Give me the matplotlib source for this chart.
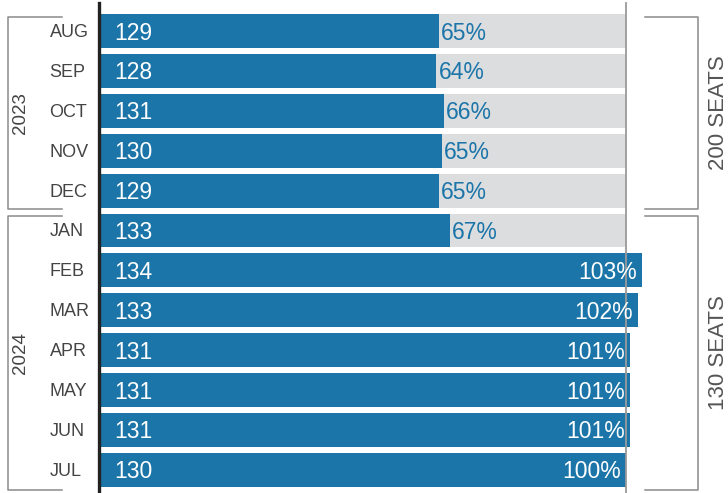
import matplotlib
matplotlib.use("Agg")
import matplotlib.pyplot as plt
from matplotlib.lines import Line2D

months = ["AUG", "SEP", "OCT", "NOV", "DEC", "JAN", "FEB", "MAR", "APR", "MAY", "JUN", "JUL"]
years = ["2023", "2023", "2023", "2023", "2023", "2024", "2024", "2024", "2024", "2024", "2024", "2024"]
attendance = [129, 128, 131, 130, 129, 133, 134, 133, 131, 131, 131, 130]
capacity = [200, 200, 200, 200, 200, 200, 130, 130, 130, 130, 130, 130]
capacity_labels = ["200 SEATS", "130 SEATS"]

BLUE = "#1b75a9"
GRAY_BG = "#dcdddf"
TEXT = "#444444"
LINE = "#8a8a8a"

plt.rcParams['font.family'] = ['Liberation Sans', 'DejaVu Sans']

W, H = 728, 493
fig = plt.figure(figsize=(W / 100, H / 100), dpi=100)
ax = fig.add_axes([0, 0, 1, 1])
ax.set_axis_off()

# pixel mapping of data scale
x0_px, px_per_pct = 99.5, 5.265
y0_px, pitch = 31.0, 39.9
ax.set_xlim(-x0_px / px_per_pct, (W - x0_px) / px_per_pct)
ax.set_ylim((H - y0_px) / pitch, -y0_px / pitch)

n = len(months)
rows = list(range(n))
pct = [a / c * 100 for a, c in zip(attendance, capacity)]
bh = 0.852

# background (capacity) bars for rows that are under capacity
for i in rows:
    if pct[i] < 100:
        ax.barh(i, 100, height=bh, color=GRAY_BG, left=0, zorder=1)
ax.barh(rows, pct, height=bh, color=BLUE, zorder=2)

# reference lines
ax.axvline(100, ymin=0, ymax=(H - 3) / H, color="#9a9a9a", lw=1.3, zorder=3)
ax.axvline(0, ymin=0, ymax=(H - 3) / H, color="#222222", lw=2.4, zorder=4)

VFS = 16.5
for i in rows:
    ax.annotate(str(attendance[i]), (0, i), xytext=(15, -2), textcoords="offset pixels",
                ha="left", va="center", color="white", fontsize=VFS, zorder=5)
    lab = f"{int(pct[i] + 0.5)}%"
    if pct[i] < 100:
        ax.annotate(lab, (pct[i], i), xytext=(2, -2), textcoords="offset pixels",
                    ha="left", va="center", color=BLUE, fontsize=VFS, zorder=5)
    else:
        ax.annotate(lab, (pct[i], i), xytext=(-5, -2), textcoords="offset pixels",
                    ha="right", va="center", color="white", fontsize=VFS, zorder=5)
    ax.annotate(months[i], (0, i), xytext=(-50, -1.5), textcoords="offset pixels",
                ha="left", va="center", color=TEXT, fontsize=13, zorder=5)


def fx(px):
    return px / W


def fy(py):
    return 1 - py / H


def bracket(x_out, x_in, y_top, y_bot):
    xs = [fx(x_in), fx(x_out), fx(x_out), fx(x_in)]
    ys = [fy(y_top), fy(y_top), fy(y_bot), fy(y_bot)]
    fig.add_artist(Line2D(xs, ys, transform=fig.transFigure, color=LINE, lw=1.1))


# year groups (left)
groups = []
start = 0
for i in range(1, n + 1):
    if i == n or years[i] != years[start]:
        groups.append((years[start], start, i - 1))
        start = i
group_px = [(17, 209), (216, 490)]
for (name, a, b), (t, btm) in zip(groups, group_px):
    bracket(8, 62, t, btm)
    fig.text(fx(21), fy((t + btm) / 2), name, rotation=90, ha="center", va="center",
             color=TEXT, fontsize=13.5)

# capacity groups (right)
for lab, (t, btm) in zip(capacity_labels, [(17, 209), (216, 490)]):
    bracket(698, 645, t, btm)
    fig.text(fx(718), fy((t + btm) / 2), lab, rotation=90, ha="center", va="center",
             color="#555555", fontsize=16)

fig.savefig("out.png", dpi=100)
